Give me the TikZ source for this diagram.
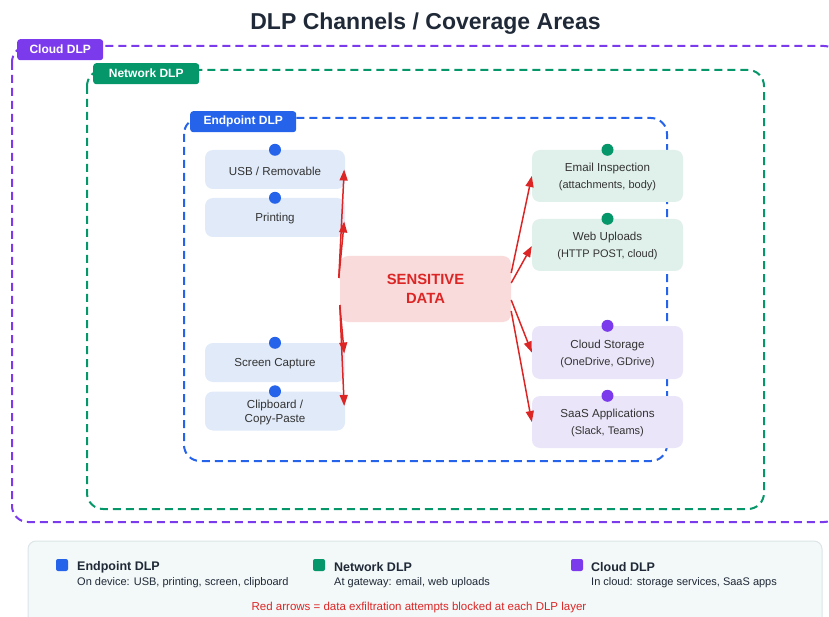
\documentclass[tikz,border=0pt]{standalone}
\usepackage{fontspec}
\setmainfont{Liberation Sans}
\usetikzlibrary{arrows.meta,calc}
\definecolor{epblue}{HTML}{2563EB}
\definecolor{nwgreen}{HTML}{059669}
\definecolor{cdpurple}{HTML}{7C3AED}
\definecolor{redc}{HTML}{DC2626}
\definecolor{epfill}{HTML}{E0EAF9}
\definecolor{nwfill}{HTML}{E0F0EA}
\definecolor{cdfill}{HTML}{EAE5F8}
\definecolor{sdfill}{HTML}{FADBDB}
\definecolor{lgfill}{HTML}{F3F8F8}
\definecolor{lgborder}{HTML}{DDE5E8}
\definecolor{darktxt}{HTML}{1F2937}
\definecolor{nodetxt}{HTML}{333333}
\tikzset{
  zone/.style={line width=2pt, dash pattern=on 8pt off 5pt, rounded corners=16pt},
  pill/.style={fill=#1, text=white, rounded corners=3pt, font=\fontsize{12}{14}\selectfont\bfseries, minimum height=21pt, inner sep=0pt, anchor=north west},
  chan/.style={fill=#1, rounded corners=8pt, text=nodetxt, align=center, font=\fontsize{11.6}{15}\selectfont, inner sep=0pt},
  chantext/.style={text=nodetxt, align=center, font=\fontsize{11.6}{15}\selectfont, inner sep=0pt},
  dot/.style={circle, fill=#1, minimum size=12pt, inner sep=0pt},
  exf/.style={draw=redc, line width=1.5pt, -{Triangle[length=11pt,width=8pt]}},
  lgsq/.style={fill=#1, rounded corners=2pt, minimum size=12pt, inner sep=0pt},
  lgtitle/.style={anchor=west, font=\fontsize{12.5}{14}\selectfont\bfseries, text=darktxt, inner sep=0pt},
  lgsub/.style={anchor=west, font=\fontsize{11}{12}\selectfont, text=darktxt, inner sep=0pt},
}
\newcommand{\subline}[1]{{\fontsize{11}{13}\selectfont #1}}
\begin{document}
\begin{tikzpicture}[x=1pt,y=-1pt]
\useasboundingbox (0,0) rectangle (829,617);
% title
\node[font=\fontsize{23}{27}\selectfont\bfseries, text=darktxt] (title) at (425.5,24) {DLP Channels / Coverage Areas};
% zones
\draw[zone, draw=cdpurple] (12,46) rectangle (840,522);
\node[pill=cdpurple, minimum width=86pt] (cloudlbl) at (17,39) {Cloud DLP};
\draw[zone, draw=nwgreen] (87,70) rectangle (764,509);
\node[pill=nwgreen, minimum width=106pt] (netlbl) at (93,63) {Network DLP};
\draw[zone, draw=epblue] (184,118) rectangle (667,461);
\node[pill=epblue, minimum width=106pt] (eplbl) at (190,111) {Endpoint DLP};
% endpoint channels
\node[chan=epfill, minimum width=140pt, minimum height=39pt] (usb) at (275,169.5) {};
\node[chantext] at (275,171) {USB / Removable};
\node[chan=epfill, minimum width=140pt, minimum height=39pt] (print) at (275,217.5) {};
\node[chantext] at (275,219) {Printing};
\node[chan=epfill, minimum width=140pt, minimum height=39pt] (screen) at (275,362.5) {};
\node[chantext] at (275,364) {Screen Capture};
\node[chan=epfill, minimum width=140pt, minimum height=39pt] (clip) at (275,411) {};
\node[chantext, font=\fontsize{11.6}{14}\selectfont] at (275,412) {Clipboard /\\Copy-Paste};
\node[dot=epblue] (dusb) at (usb.north) {};
\node[dot=epblue] (dprint) at (print.north) {};
\node[dot=epblue] (dscreen) at (screen.north) {};
\node[dot=epblue] (dclip) at (clip.north) {};
% network / cloud channels
\node[chan=nwfill, minimum width=151pt, minimum height=52pt] (email) at (607.5,176) {};
\node[chantext] at (607.5,177) {Email Inspection\\[2pt]\subline{(attachments, body)}};
\node[chan=nwfill, minimum width=151pt, minimum height=52pt] (web) at (607.5,245) {};
\node[chantext] at (607.5,246) {Web Uploads\\[2pt]\subline{(HTTP POST, cloud)}};
\node[chan=cdfill, minimum width=151pt, minimum height=53pt] (cstore) at (607.5,352.5) {};
\node[chantext] at (607.5,353.5) {Cloud Storage\\[2pt]\subline{(OneDrive, GDrive)}};
\node[chan=cdfill, minimum width=151pt, minimum height=52pt] (saas) at (607.5,422) {};
\node[chantext] at (607.5,423) {SaaS Applications\\[2pt]\subline{(Slack, Teams)}};
\node[dot=nwgreen] (demail) at (email.north) {};
\node[dot=nwgreen] (dweb) at (web.north) {};
\node[dot=cdpurple] (dcstore) at (cstore.north) {};
\node[dot=cdpurple] (dsaas) at (saas.north) {};
% sensitive data
\node[fill=sdfill, rounded corners=8pt, minimum width=171pt, minimum height=66pt, inner sep=0pt, align=center, text=redc, font=\fontsize{14.8}{19}\selectfont\bfseries] (sd) at (425.5,289) {SENSITIVE\\DATA};
% exfiltration arrows
\draw[exf] ([xshift=-1pt,yshift=11pt]sd.west) -- ([xshift=-1pt]usb.east);
\draw[exf] ([xshift=-1pt,yshift=11pt]sd.west) -- ([xshift=-1pt,yshift=-4pt]print.east);
\draw[exf] ([yshift=-16pt]sd.west) -- ([xshift=-1pt,yshift=9pt]screen.east);
\draw[exf] ([yshift=-16pt]sd.west) -- ([xshift=-1pt,yshift=5pt]clip.east);
\draw[exf] ([yshift=16pt]sd.east) -- (email.west);
\draw[exf] ([yshift=6pt]sd.east) -- ([yshift=-1pt]web.west);
\draw[exf] ([yshift=-11pt]sd.east) -- (cstore.west);
\draw[exf] ([yshift=-22pt]sd.east) -- (saas.west);
% legend
\draw[fill=lgfill, draw=lgborder, line width=1pt, rounded corners=8pt] (28,541) rectangle (822,630);
\node[lgsq=epblue] (lg1) at (62,565) {};
\node[lgtitle] (lg1t) at (77,567) {Endpoint DLP};
\node[lgsub] (lg1s) at (77,583) {On device: USB, printing, screen, clipboard};
\node[lgsq=nwgreen] (lg2) at (319,565) {};
\node[lgtitle] (lg2t) at (334,567) {Network DLP};
\node[lgsub] (lg2s) at (334,583) {At gateway: email, web uploads};
\node[lgsq=cdpurple] (lg3) at (577,565) {};
\node[lgtitle] (lg3t) at (591,567) {Cloud DLP};
\node[lgsub] (lg3s) at (591,583) {In cloud: storage services, SaaS apps};
\node[font=\fontsize{11.5}{13}\selectfont, text=redc] (lgnote) at (419,608) {Red arrows = data exfiltration attempts blocked at each DLP layer};
\end{tikzpicture}
\end{document}
